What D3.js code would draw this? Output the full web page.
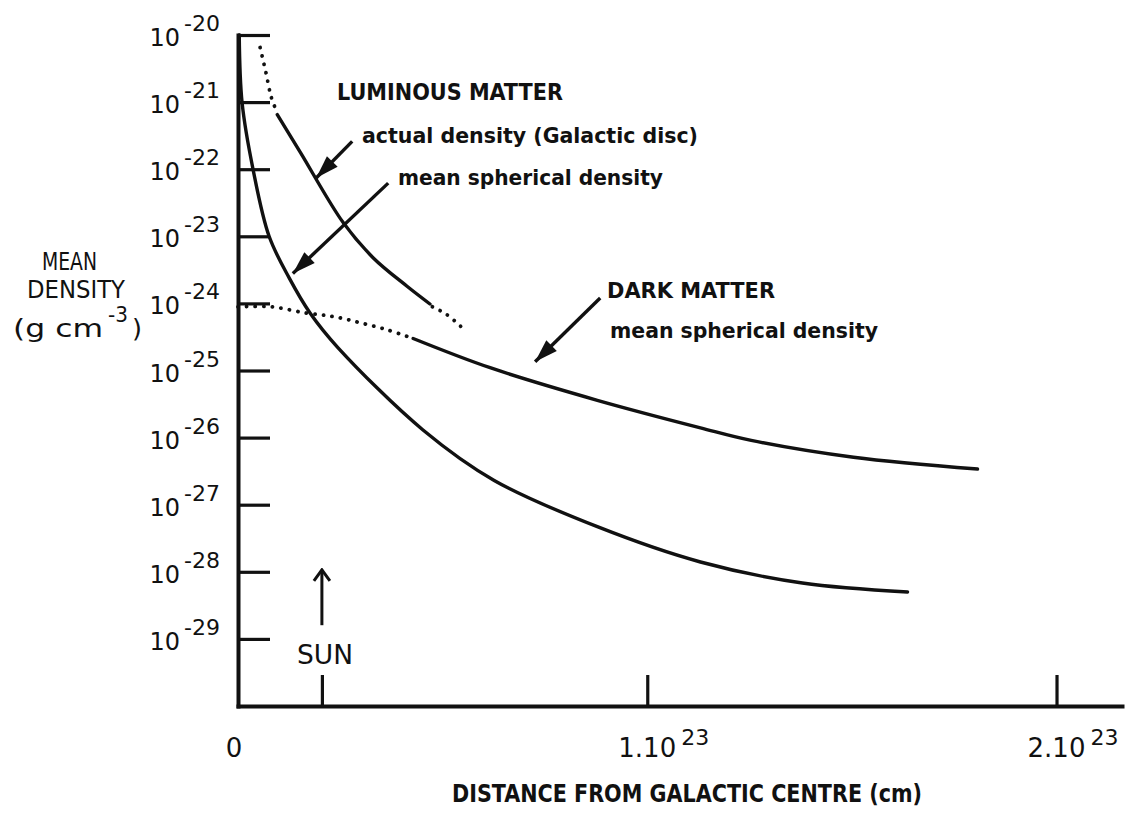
<!DOCTYPE html>
<html>
<head>
<meta charset="utf-8">
<script src="https://cdn.jsdelivr.net/npm/d3@7"></script>
<style>
  body { margin: 0; background: #fff; }
  svg { display: block; }
</style>
</head>
<body>
<div id="wrapper"></div>
<script>
// distance from galactic centre (cm) / mean density (g cm^-3)
const lumMeanDistance = [3e20, 1.0e21, 3.7e21, 7.6e21, 1.25e22, 1.76e22, 2.44e22, 4.52e22, 6.26e22, 8.78e22, 1.13e23, 1.379e23, 1.636e23];
const lumMeanDensity = [1.0e-20, 9.8e-22, 9.8e-23, 1.0e-23, 2.4e-24, 7.2e-25, 2.2e-25, 1.3e-26, 2.3e-27, 4.7e-28, 1.4e-28, 6.8e-29, 5.0e-29];

const discHeadDistance = [5.4e21, 6.8e21, 8.1e21, 9.3e21];
const discHeadDensity = [6.5e-21, 2.8e-21, 1.2e-21, 7.6e-22];
const discDistance = [9.6e21, 1.52e22, 2.57e22, 3.3e22, 4.13e22, 4.69e22];
const discDensity = [6.5e-22, 1.8e-22, 1.6e-23, 4.8e-24, 1.8e-24, 9.8e-25];
const discTailDistance = [4.75e22, 5.09e22, 5.45e22];
const discTailDensity = [8.9e-25, 6.9e-25, 4.5e-25];

const darkHeadDistance = [0, 8.1e21, 1.66e22, 2.37e22, 3.01e22, 3.67e22, 4.28e22];
const darkHeadDensity = [8.9e-25, 8.9e-25, 7.2e-25, 6.3e-25, 5.1e-25, 4.0e-25, 3.0e-25];
const darkDistance = [4.28e22, 6.16e22, 8.78e22, 1.13e23, 1.254e23, 1.504e23, 1.807e23];
const darkDensity = [3.0e-25, 1.1e-25, 3.6e-26, 1.4e-26, 9.1e-27, 5.1e-27, 3.4e-27];

const yTickValues = [1e-20, 1e-21, 1e-22, 1e-23, 1e-24, 1e-25, 1e-26, 1e-27, 1e-28, 1e-29];
const yTickLabels = ["-20", "-21", "-22", "-23", "-24", "-25", "-26", "-27", "-28", "-29"];
const xTickValues = [0, 1e23, 2e23];
const xTickLabels = ["0", "1.10", "2.10"];
const xTickPowers = ["", "23", "23"];
const sunDistance = 2.05e22;

// arrows: [fromDistance, fromDensity, toDistance, toDensity]
const arrowDisc = [2.79e22, 2.6e-22, 1.91e22, 7.4e-23];
const arrowLumMean = [3.67e22, 6.2e-23, 1.34e22, 2.8e-24];
const arrowDark = [8.85e22, 1.2e-24, 7.26e22, 1.35e-25];
const arrowSun = [sunDistance, 1.6e-29, sunDistance, 1.07e-28];

function drawChart() {
  //* Step 1. Dimensions
  const dimensions = { width: 1127, height: 814 };
  const ink = "#111";
  const plainFont = "'DejaVu Sans', sans-serif";
  const boldFont = "'DejaVu Sans Condensed', 'Liberation Sans Narrow', 'DejaVu Sans', sans-serif";

  //* Step 2. Canvas
  const svg = d3
    .select("#wrapper")
    .append("svg")
    .attr("width", dimensions.width)
    .attr("height", dimensions.height);

  const defs = svg.append("defs");
  defs.append("marker")
    .attr("id", "head")
    .attr("markerUnits", "userSpaceOnUse")
    .attr("viewBox", "-24 -8 25 16")
    .attr("refX", 0)
    .attr("refY", 0)
    .attr("markerWidth", 25)
    .attr("markerHeight", 16)
    .attr("orient", "auto")
    .append("path")
    .attr("d", "M0,0L-23,-7.5L-23,7.5Z")
    .attr("fill", ink);

  defs.append("marker")
    .attr("id", "openHead")
    .attr("markerUnits", "userSpaceOnUse")
    .attr("viewBox", "-14 -10 16 20")
    .attr("refX", 0)
    .attr("refY", 0)
    .attr("markerWidth", 16)
    .attr("markerHeight", 20)
    .attr("orient", "auto")
    .append("path")
    .attr("d", "M-11,-8L0,0L-11,8")
    .attr("fill", "none")
    .attr("stroke", ink)
    .attr("stroke-width", 3);

  //* Step 3. Scales
  const xScale = d3.scaleLinear().domain([0, 2.16e23]).range([238, 1122]);
  const yScale = d3.scaleLog().domain([1e-30, 1e-20]).range([706, 35]);

  //* Step 4. Curves
  const lineGen = d3
    .line()
    .x((d) => xScale(d[0]))
    .y((d) => yScale(d[1]))
    .curve(d3.curveCatmullRom.alpha(0.5));

  const solid = [
    d3.zip(lumMeanDistance, lumMeanDensity),
    d3.zip(discDistance, discDensity),
    d3.zip(darkDistance, darkDensity),
  ];
  const dotted = [
    d3.zip(discHeadDistance, discHeadDensity),
    d3.zip(discTailDistance, discTailDensity),
    d3.zip(darkHeadDistance, darkHeadDensity),
  ];

  svg.append("g")
    .selectAll("path")
    .data(solid)
    .join("path")
    .attr("d", lineGen)
    .attr("fill", "none")
    .attr("stroke", ink)
    .attr("stroke-width", 3.4)
    .attr("stroke-linecap", "round");

  svg.append("g")
    .selectAll("path")
    .data(dotted)
    .join("path")
    .attr("d", lineGen)
    .attr("fill", "none")
    .attr("stroke", ink)
    .attr("stroke-width", 3.8)
    .attr("stroke-linecap", "round")
    .attr("stroke-dasharray", "0.1 8.5");

  //* Step 5. Axes
  const yAxis = svg.append("g")
    .attr("transform", `translate(${xScale(0)},0)`)
    .call(d3.axisRight(yScale).tickValues(yTickValues).tickSizeInner(32).tickSizeOuter(0).tickFormat(""));

  const xAxis = svg.append("g")
    .attr("transform", `translate(0,${yScale(1e-30)})`)
    .call(d3.axisTop(xScale).tickValues([sunDistance, 1e23, 2e23]).tickSizeInner(31).tickSizeOuter(0).tickFormat(""));

  [yAxis, xAxis].forEach((ax) => {
    ax.select(".domain").attr("stroke", ink).attr("stroke-width", 4).attr("stroke-linecap", "square");
    ax.selectAll(".tick line").attr("stroke", ink).attr("stroke-width", 3.2);
  });

  // y tick labels: 10 with raised exponent
  const yLabels = svg.append("g").attr("font-family", plainFont).attr("fill", ink);
  yLabels.selectAll(".base")
    .data(yTickValues)
    .join("text")
    .attr("class", "base")
    .attr("x", 180)
    .attr("y", (d) => yScale(d) + 11)
    .attr("text-anchor", "end")
    .attr("font-size", 24)
    .text("10");
  yLabels.selectAll(".pow")
    .data(yTickValues)
    .join("text")
    .attr("class", "pow")
    .attr("x", 184)
    .attr("y", (d) => yScale(d) - 4)
    .attr("font-size", 22)
    .text((d, i) => yTickLabels[i]);

  // x tick labels
  const xLabels = svg.append("g").attr("font-family", plainFont).attr("fill", ink);
  xLabels.selectAll(".base")
    .data(xTickValues)
    .join("text")
    .attr("class", "base")
    .attr("x", (d) => xScale(d) - (d === 0 ? 4 : 0))
    .attr("y", 757)
    .attr("text-anchor", "middle")
    .attr("font-size", 26)
    .text((d, i) => xTickLabels[i]);
  xLabels.selectAll(".pow")
    .data(xTickValues)
    .join("text")
    .attr("class", "pow")
    .attr("x", (d) => xScale(d) + 34)
    .attr("y", 745)
    .attr("font-size", 22)
    .text((d, i) => xTickPowers[i]);

  //* Step 6. Arrows and labels
  svg.append("g")
    .selectAll("line")
    .data([arrowDisc, arrowLumMean, arrowDark])
    .join("line")
    .attr("x1", (d) => xScale(d[0]))
    .attr("y1", (d) => yScale(d[1]))
    .attr("x2", (d) => xScale(d[2]))
    .attr("y2", (d) => yScale(d[3]))
    .attr("stroke", ink)
    .attr("stroke-width", 3.4)
    .attr("marker-end", "url(#head)");

  svg.append("line")
    .attr("x1", xScale(arrowSun[0]))
    .attr("y1", yScale(arrowSun[1]))
    .attr("x2", xScale(arrowSun[2]))
    .attr("y2", yScale(arrowSun[3]))
    .attr("stroke", ink)
    .attr("stroke-width", 3)
    .attr("marker-end", "url(#openHead)");

  const labels = [
    { text: "LUMINOUS MATTER", x: 337, y: 100, size: 23, len: 226, bold: true },
    { text: "actual density (Galactic disc)", x: 362, y: 143, size: 21, len: 336, bold: true },
    { text: "mean spherical density", x: 398, y: 185, size: 21, len: 265, bold: true },
    { text: "DARK MATTER", x: 607, y: 298, size: 22, len: 168, bold: true },
    { text: "mean spherical density", x: 610, y: 338, size: 21, len: 268, bold: true },
    { text: "SUN", x: 297, y: 664, size: 27, len: 56, bold: false },
    { text: "MEAN", x: 42, y: 270, size: 24, len: 55, bold: false },
    { text: "DENSITY", x: 27, y: 298, size: 24, len: 98, bold: false },
    { text: "(g cm", x: 13, y: 337, size: 25, len: 90, bold: false },
    { text: "-3", x: 108, y: 322, size: 21, len: 20, bold: false },
    { text: ")", x: 132, y: 337, size: 25, len: 10, bold: false },
    { text: "DISTANCE FROM GALACTIC CENTRE (cm)", x: 452, y: 802, size: 24, len: 470, bold: true },
  ];

  svg.append("g")
    .selectAll("text")
    .data(labels)
    .join("text")
    .attr("x", (d) => d.x)
    .attr("y", (d) => d.y)
    .attr("font-family", (d) => (d.bold ? boldFont : plainFont))
    .attr("font-weight", (d) => (d.bold ? "bold" : "normal"))
    .attr("font-size", (d) => d.size)
    .attr("textLength", (d) => d.len)
    .attr("lengthAdjust", "spacingAndGlyphs")
    .attr("fill", ink)
    .text((d) => d.text);
}
drawChart();
</script>
</body>
</html>
